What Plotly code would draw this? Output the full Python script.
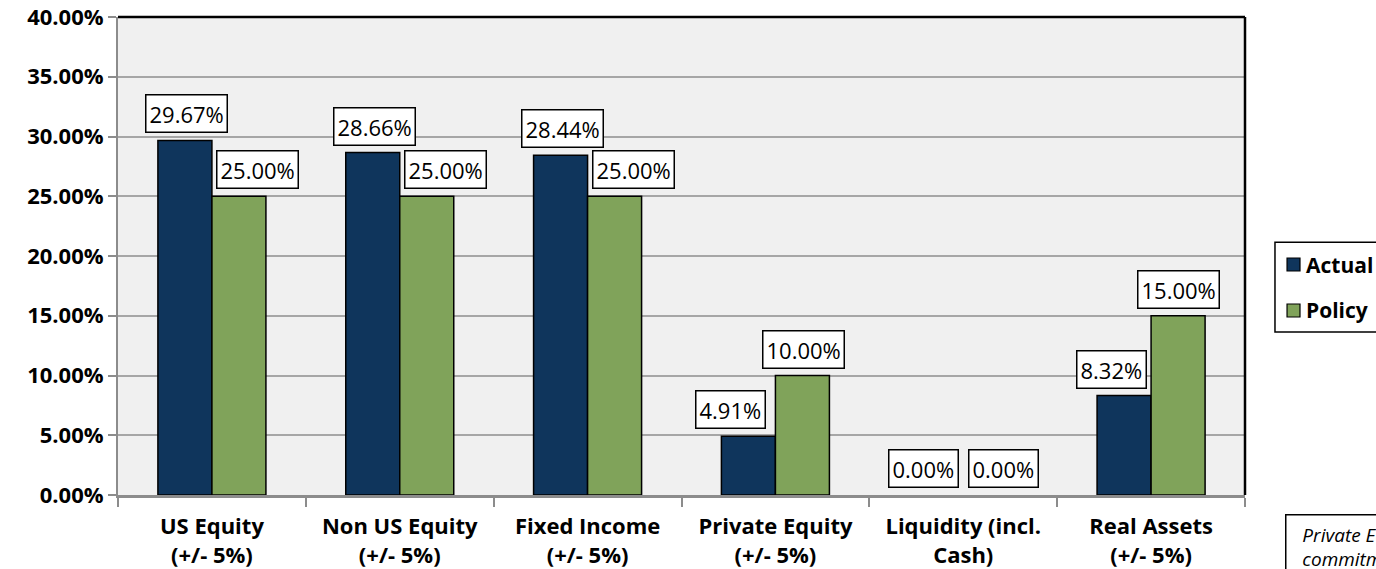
import plotly.graph_objects as go

categories = ["US Equity<br>(+/- 5%)", "Non US Equity<br>(+/- 5%)", "Fixed Income<br>(+/- 5%)",
              "Private Equity<br>(+/- 5%)", "Liquidity (incl.<br>Cash)", "Real Assets<br>(+/- 5%)"]
actual = [29.67, 28.66, 28.44, 4.91, 0.00, 8.32]
policy = [25.00, 25.00, 25.00, 10.00, 0.00, 15.00]
series_names = ["Actual", "Policy"]

navy = "#0f355c"
green = "#80a35a"
font = "Open Sans"

# horizontal nudges of the boxed labels (px from category centre), as in the original layout
actual_shift = [-25, -25, -25, -45, -40, -40]
policy_shift = [46, 46, 46, 28, 40, 27]

def outline(vals):
    # zero-height bars get no outline, so nothing shows on the baseline
    return dict(color="black", width=[1.5 if v else 0 for v in vals])

fig = go.Figure()
fig.add_trace(go.Bar(x=categories, y=actual, name=series_names[0],
                     marker=dict(color=navy, line=outline(actual))))
fig.add_trace(go.Bar(x=categories, y=policy, name=series_names[1],
                     marker=dict(color=green, line=outline(policy))))

for vals, shifts in ((actual, actual_shift), (policy, policy_shift)):
    for c, v, s in zip(categories, vals, shifts):
        fig.add_annotation(x=c, y=v, text=f"{v:.2f}%", showarrow=False,
                           xshift=s, yshift=7, yanchor="bottom",
                           font=dict(family=font, size=22, color="black"),
                           bgcolor="white", bordercolor="black", borderwidth=1.5,
                           borderpad=3)

# legend drawn by hand so it sits like the original (box runs off the right edge)
fig.add_shape(type="rect", xref="paper", yref="paper", x0=1.0266, x1=1.25, y0=0.341, y1=0.529,
              line=dict(color="black", width=1.5), fillcolor="white")
for name, col, y0, y1, yc in ((series_names[0], navy, 0.4686, 0.4958, 0.482),
                              (series_names[1], green, 0.3724, 0.3996, 0.386)):
    fig.add_shape(type="rect", xref="paper", yref="paper", x0=1.0373, x1=1.0488, y0=y0, y1=y1,
                  line=dict(color="black", width=1.2), fillcolor=col)
    fig.add_annotation(xref="paper", yref="paper", x=1.052, y=yc, xanchor="left", yanchor="middle",
                       text=f"<b>{name}</b>", showarrow=False,
                       font=dict(family=font, size=21, color="black"))

# cut-off note box at the bottom right
fig.add_annotation(xref="paper", yref="paper", x=1.0355, y=-0.04, xanchor="left", yanchor="top",
                   text="<i>\u00a0\u00a0Private Equity<br>\u00a0\u00a0commitments</i>", align="left",
                   showarrow=False, font=dict(family=font, size=19, color="black"),
                   bgcolor="white", bordercolor="black", borderwidth=1.5, borderpad=6)

fig.update_layout(
    width=1376, height=569,
    margin=dict(l=118, r=131, t=17, b=74, autoexpand=False),
    paper_bgcolor="white", plot_bgcolor="#f0f0f0",
    barmode="group", bargap=0.425, bargroupgap=0,
    font=dict(family=font, color="black"),
    showlegend=False,
)
fig.update_xaxes(showline=True, linecolor="#8c8c8c", linewidth=2.5,
                 ticks="outside", tickson="boundaries", ticklen=9, tickcolor="#8c8c8c", tickwidth=2,
                 ticklabelstandoff=10,
                 tickfont=dict(family=font, size=22, weight="bold"))
fig.update_yaxes(range=[0, 40], dtick=5, ticksuffix="%", tickformat=".2f",
                 showgrid=True, gridcolor="#a6a6a6", gridwidth=1.5,
                 showline=True, linecolor="#8c8c8c", linewidth=2,
                 ticks="outside", ticklen=8, tickcolor="#8c8c8c", tickwidth=2,
                 tickfont=dict(family=font, size=22, weight="bold"), zeroline=False)
# black top and right frame lines
fig.add_shape(type="line", xref="paper", yref="paper", x0=0, x1=1, y0=1, y1=1,
              line=dict(color="black", width=2.5))
fig.add_shape(type="line", xref="paper", yref="paper", x0=1, x1=1, y0=0, y1=1,
              line=dict(color="black", width=2.5))

# drop the page's default body margin so the figure fills the window exactly
fig.write_html("out.html", config={"displayModeBar": False},
               post_script="document.body.style.margin='0';")
